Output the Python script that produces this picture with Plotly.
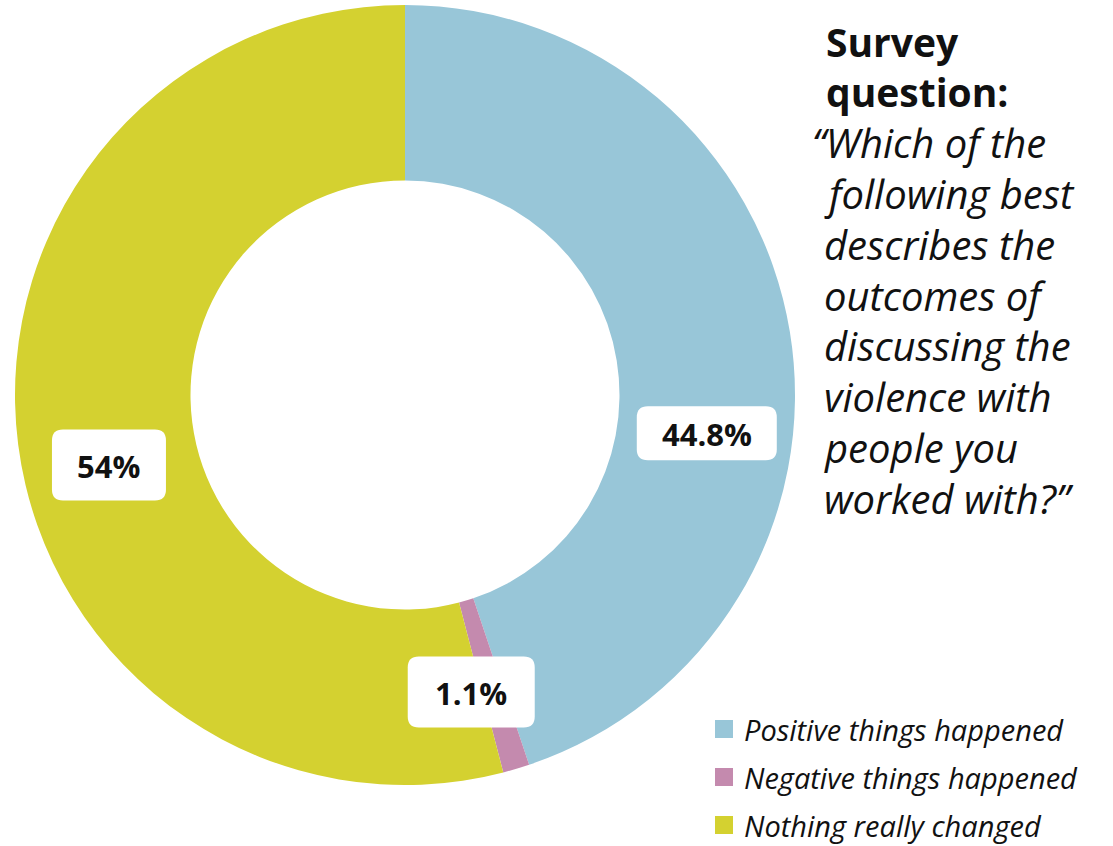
import math
import plotly.graph_objects as go

# ---- data ----
labels = ["Positive things happened", "Negative things happened", "Nothing really changed"]
values = [44.8, 1.1, 54.0]
value_text = ["44.8%", "1.1%", "54%"]
colors = ["#98C6D8", "#C48AAE", "#D4D130"]

title_bold = ["Survey", "question:"]
question_lines = ["\u201cWhich of the", "following best", "describes the", "outcomes of",
                  "discussing the", "violence with", "people you", "worked with?\u201d"]

# ---- layout constants (pixels) ----
W, H = 1113, 846
cx, cy, R = 405, 395, 390
hole = 0.55
label_r = 0.78 * R
label_angle_shift = [16.5, 4.0, -6.0]   # degrees, style tweak for label placement
box_w = [140, 127, 114]
box_h = [54, 71, 71]


def px(x):
    return x / W


def py(y):
    return 1 - y / H


fig = go.Figure(go.Pie(
    labels=labels, values=values, sort=False, direction="clockwise", rotation=0,
    hole=hole, marker=dict(colors=colors, line=dict(width=0)),
    textinfo="none", hoverinfo="label+percent", showlegend=False,
    domain=dict(x=[px(cx - R), px(cx + R)], y=[py(cy + R), py(cy - R)]),
))

shapes = []
annotations = []


def rounded_rect(x0, y0, x1, y1, r):
    pts = (f"M {px(x0 + r)},{py(y0)} L {px(x1 - r)},{py(y0)} "
           f"Q {px(x1)},{py(y0)} {px(x1)},{py(y0 + r)} L {px(x1)},{py(y1 - r)} "
           f"Q {px(x1)},{py(y1)} {px(x1 - r)},{py(y1)} L {px(x0 + r)},{py(y1)} "
           f"Q {px(x0)},{py(y1)} {px(x0)},{py(y1 - r)} L {px(x0)},{py(y0 + r)} "
           f"Q {px(x0)},{py(y0)} {px(x0 + r)},{py(y0)} Z")
    return dict(type="path", path=pts, xref="paper", yref="paper",
                fillcolor="white", line=dict(width=0), layer="above")


total = sum(values)
cum = 0.0
for i, v in enumerate(values):
    mid = (cum + v / 2) / total * 360 + label_angle_shift[i]
    cum += v
    a = math.radians(mid)
    lx = cx + label_r * math.sin(a)
    ly = cy - label_r * math.cos(a)
    shapes.append(rounded_rect(lx - box_w[i] / 2, ly - box_h[i] / 2,
                               lx + box_w[i] / 2, ly + box_h[i] / 2, 11))
    annotations.append(dict(x=px(lx), y=py(ly + 1), xref="paper", yref="paper",
                            text=f"<b>{value_text[i]}</b>", showarrow=False,
                            font=dict(family="Open Sans", size=31, color="#111111"),
                            xanchor="center", yanchor="middle"))

# question text
line_step = 50.8
y0 = 41
for j, t in enumerate(title_bold):
    annotations.append(dict(x=px(824), y=py(y0 + j * line_step), xref="paper", yref="paper",
                            text=f"<b>{t}</b>", showarrow=False, xanchor="left", yanchor="middle",
                            font=dict(family="Open Sans", size=39, color="#111111")))
for k, t in enumerate(question_lines):
    xpos = 810 if t.startswith("\u201c") else 822
    annotations.append(dict(x=px(xpos), y=py(y0 + (k + 2) * line_step), xref="paper", yref="paper",
                            text=f"<i>{t}</i>", showarrow=False, xanchor="left", yanchor="middle",
                            font=dict(family="Open Sans", size=40, color="#111111")))

# manual legend
leg_y = [729, 777, 825]
for i, lab in enumerate(labels):
    yy = leg_y[i]
    shapes.append(dict(type="rect", xref="paper", yref="paper",
                       x0=px(715), x1=px(733), y0=py(yy + 9), y1=py(yy - 9),
                       fillcolor=colors[i], line=dict(width=0)))
    annotations.append(dict(x=px(743), y=py(yy), xref="paper", yref="paper",
                            text=f"<i>{lab}</i>", showarrow=False, xanchor="left", yanchor="middle",
                            borderpad=0,
                            font=dict(family="Open Sans", size=29, color="#111111")))

fig.update_layout(width=W, height=H, margin=dict(l=0, r=0, t=0, b=0),
                  paper_bgcolor="white", plot_bgcolor="white",
                  shapes=shapes, annotations=annotations)

fig.write_html("out.html")
